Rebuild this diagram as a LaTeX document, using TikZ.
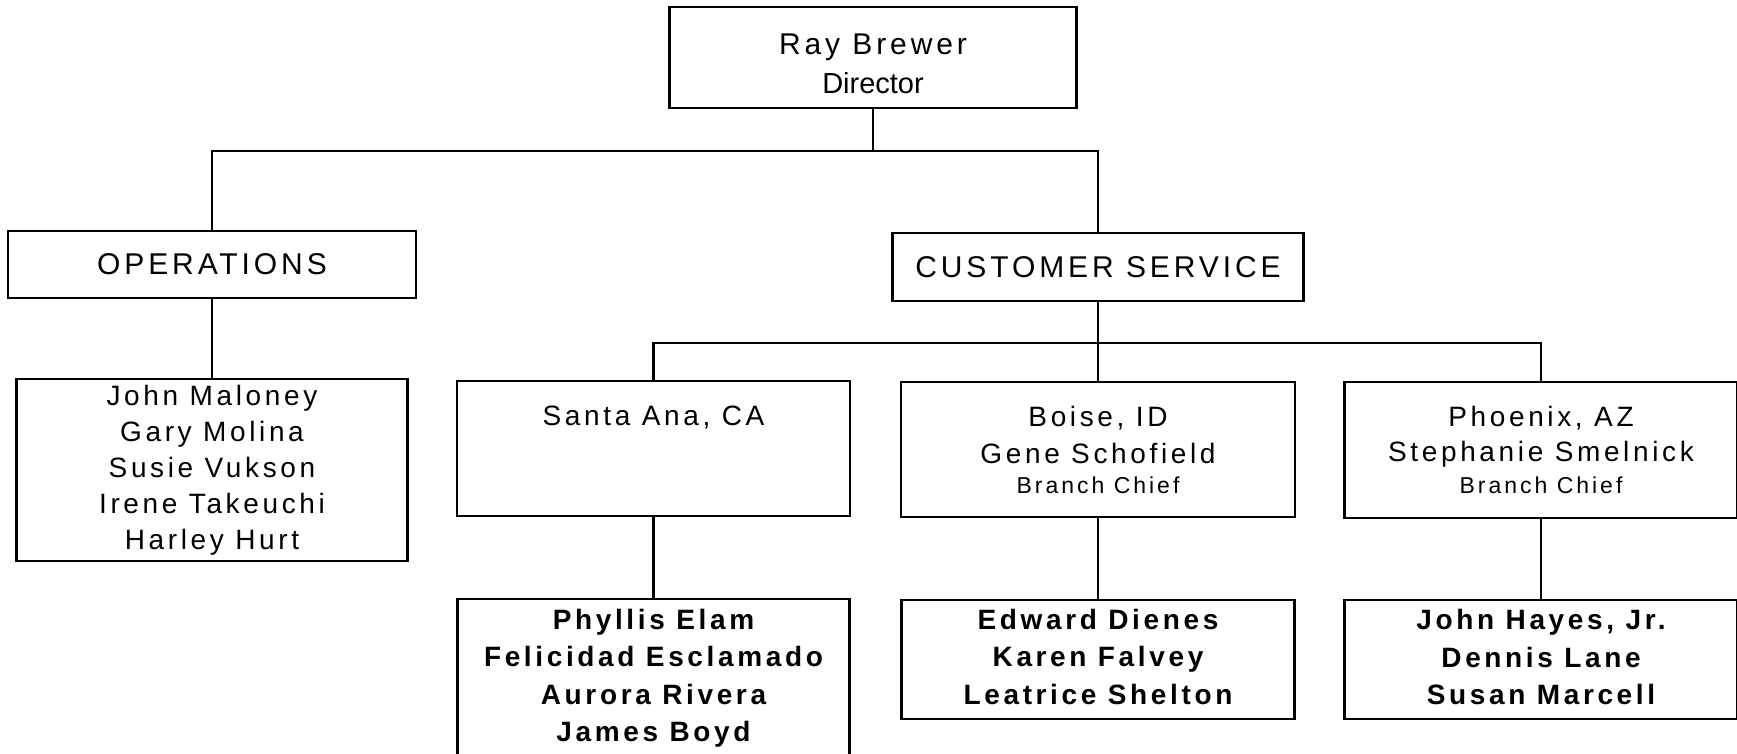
\documentclass[tikz,border=0pt]{standalone}
\usepackage{fontspec}
\setmainfont{Liberation Sans}[LetterSpace=13]

\begin{document}
\begin{tikzpicture}[x=1pt,y=-1pt,
  orgbox/.style={draw, line width=2.2pt, inner sep=0pt, align=center},
  big/.style={font=\fontsize{30}{39}\selectfont},
  names/.style={font=\fontsize{28}{36}\selectfont},
  bnames/.style={font=\fontsize{28}{37.5}\selectfont\bfseries},
  conn/.style={line width=2.2pt}]
\useasboundingbox (0,0) rectangle (1737,753);

\node[orgbox, big, minimum width=407, minimum height=101] (dir) at (873,57.5) {\rule{0pt}{34pt}Ray Brewer\\{\fontsize{29}{39}\selectfont\addfontfeatures{LetterSpace=0}Director}};

\node[orgbox, big, minimum width=408, minimum height=67] (ops) at (212,264.5) {OPERATIONS};
\node[orgbox, big, minimum width=411, minimum height=68] (cs) at (1098,267) {CUSTOMER SERVICE};

\node[orgbox, names, minimum width=391, minimum height=182] (opsstaff) at (212,470) {John Maloney\\Gary Molina\\Susie Vukson\\Irene Takeuchi\\Harley Hurt};

\node[orgbox, names, minimum width=393, inner ysep=24pt, text height=20pt, text depth=67pt] (santa) at (653.5,448.5) {Santa Ana, CA};
\node[orgbox, names, minimum width=394, minimum height=135] (boise) at (1098,449.5) {Boise, ID\\[1pt]Gene Schofield\\[-6pt]{\fontsize{23}{28}\selectfont Branch Chief}};
\node[orgbox, names, minimum width=393, minimum height=136] (phoenix) at (1541,450) {Phoenix, AZ\\[-1pt]Stephanie Smelnick\\[-4pt]{\fontsize{23}{28}\selectfont Branch Chief}};

\node[orgbox, bnames, minimum width=392, minimum height=158] (santastaff) at (653.5,678) {Phyllis Elam\\Felicidad Esclamado\\Aurora Rivera\\James Boyd};
\node[orgbox, bnames, minimum width=393, minimum height=119] (boisestaff) at (1098,659.5) {Edward Dienes\\Karen Falvey\\Leatrice Shelton\rule[-6pt]{0pt}{1pt}};
\node[orgbox, bnames, minimum width=393, minimum height=119] (phoenixstaff) at (1541,659.5) {John Hayes, Jr.\\Dennis Lane\\Susan Marcell\rule[-5pt]{0pt}{1pt}};

\coordinate (topbar) at (873,151);
\coordinate (csbar) at (1098,343);

\draw[conn] (dir) -- (topbar);
\draw[conn] (ops.north) |- (topbar) -| (cs.north);
\draw[conn] (ops) -- (opsstaff);
\draw[conn] (cs) -- (csbar);
\draw[conn] (santa.north) |- (csbar) -| (phoenix.north);
\draw[conn] (csbar) -- (boise);
\draw[conn] (santa) -- (santastaff);
\draw[conn] (boise) -- (boisestaff);
\draw[conn] (phoenix) -- (phoenixstaff);
\end{tikzpicture}
\end{document}
